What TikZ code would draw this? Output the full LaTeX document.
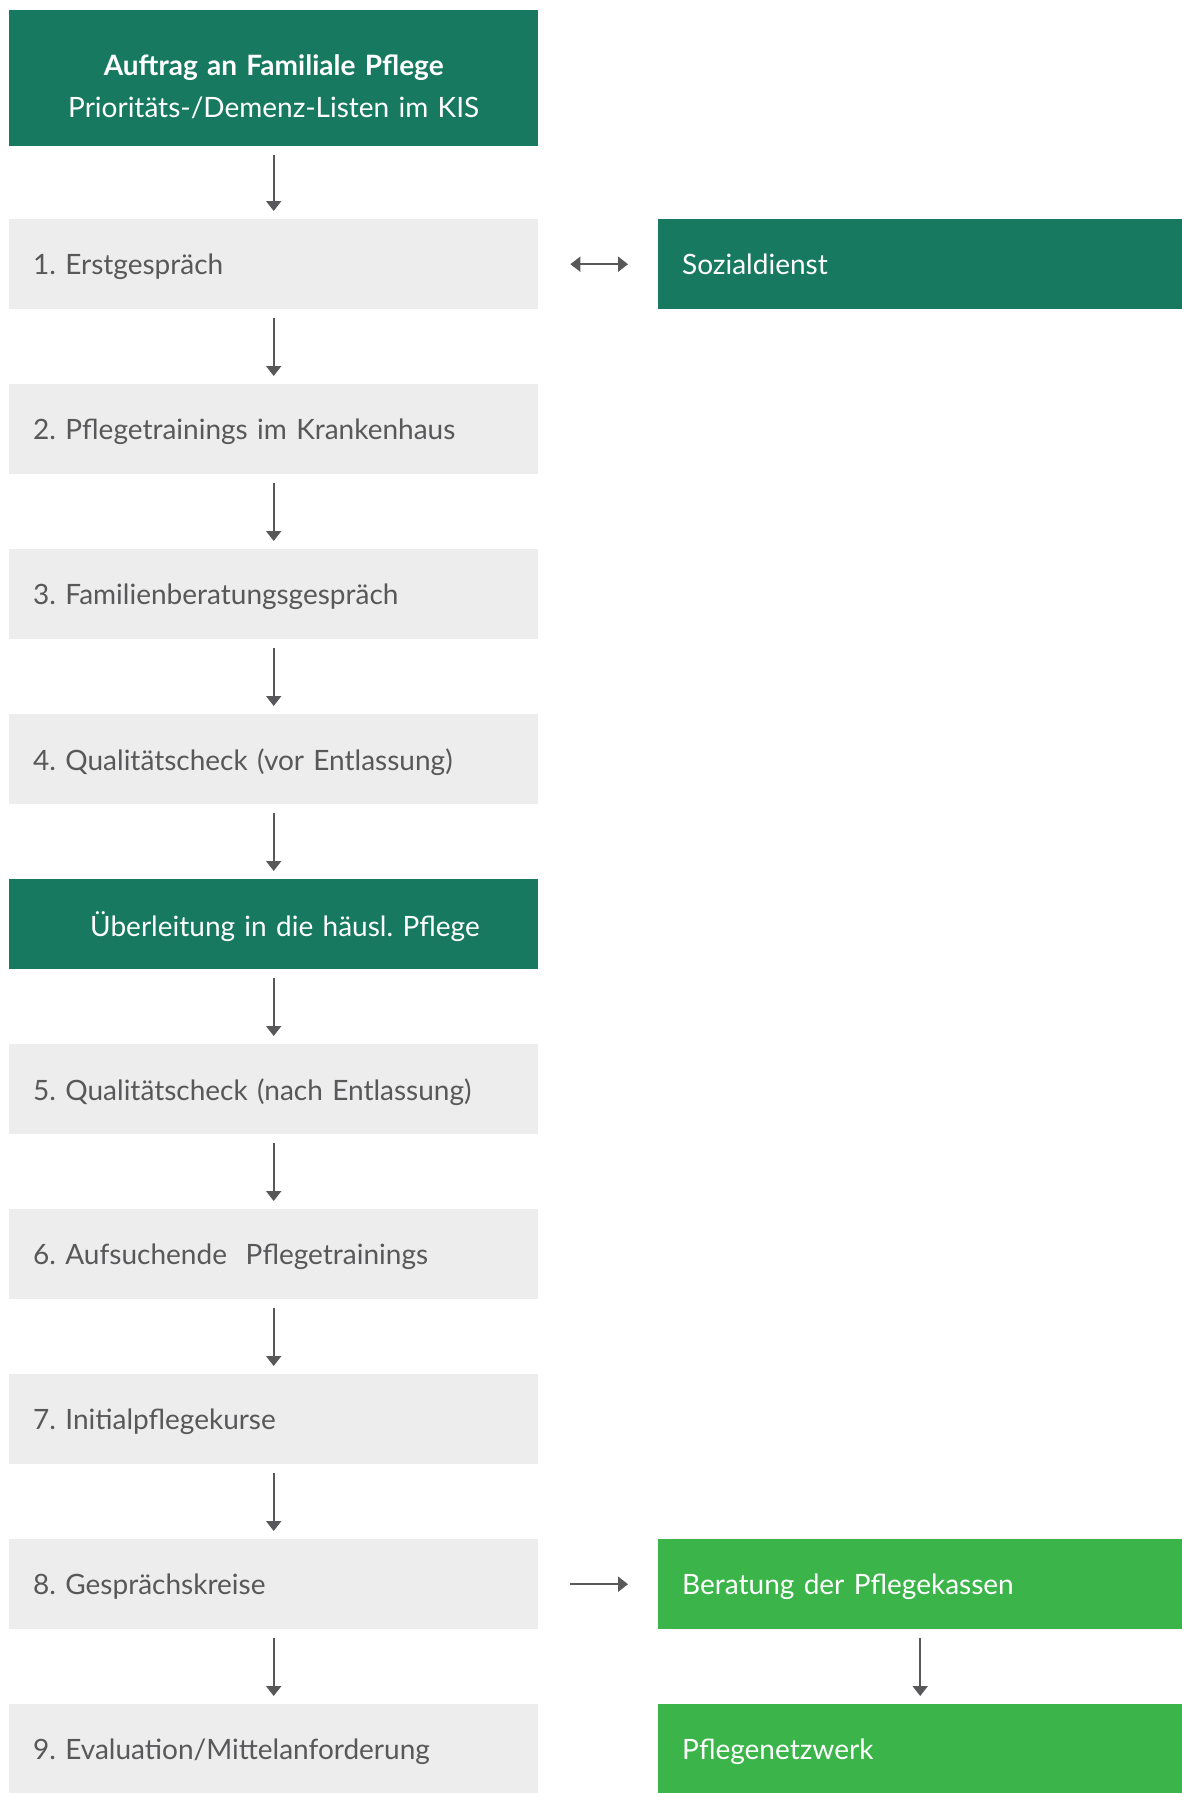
\documentclass[tikz,border=0pt]{standalone}
\usepackage{fontspec}
\setmainfont{Lato}
\usetikzlibrary{arrows.meta}
\definecolor{dkgreen}{HTML}{177A60}
\definecolor{ltgreen}{HTML}{3BB54A}
\definecolor{boxgray}{HTML}{EDEDED}
\definecolor{txtgray}{HTML}{58585A}
\definecolor{arrgray}{HTML}{58585A}
\begin{document}
\frenchspacing
\begin{tikzpicture}[x=1pt,y=-1pt,
  base/.style={rectangle, anchor=north west, minimum height=90pt, inner xsep=24pt, inner ysep=0pt, align=left, font=\fontsize{28}{32}\selectfont\frenchspacing, text depth=0pt},
  graybox/.style={base, fill=boxgray, text=txtgray, text width=481pt},
  greenbox/.style={base, fill=dkgreen, text=white, text width=481pt},
  rightbox/.style={base, text=white, text width=476pt},
  arr/.style={draw=arrgray, line width=2pt, -{Triangle[width=15pt,length=10pt]}, shorten <=9pt, shorten >=8pt},
  harr/.style={draw=arrgray, line width=2pt, shorten <=32pt, shorten >=30pt},
]
\useasboundingbox (0,0) rectangle (1182,1793);
\fill[white] (0,0) rectangle (1182,1793);

\node[greenbox, align=center, minimum height=136pt, text depth=26pt, font=\fontsize{28}{42}\selectfont\frenchspacing] (top) at (9,10) {{\bfseries Auftrag an Familiale Pflege}\\Prioritäts-/Demenz-Listen im KIS};
\node[graybox] (s1) at (9,219) {1. Erstgespräch};
\node[graybox] (s2) at (9,384) {2. Pflegetrainings im Krankenhaus};
\node[graybox] (s3) at (9,549) {3. Familienberatungsgespräch};
\node[graybox] (s4) at (9,714) {4. Qualitätscheck (vor Entlassung)};
\node[greenbox] (ue) at (9,879) {\hspace*{57pt}Überleitung in die häusl. Pflege};
\node[graybox] (s5) at (9,1044) {5. Qualitätscheck (nach Entlassung)};
\node[graybox] (s6) at (9,1209) {6. Aufsuchende\ \ Pflegetrainings};
\node[graybox] (s7) at (9,1374) {7. Initialpflegekurse};
\node[graybox] (s8) at (9,1539) {8. Gesprächskreise};
\node[graybox, minimum height=89pt] (s9) at (9,1704) {9. Evaluation/Mittelanforderung};

\node[rightbox, fill=dkgreen] (soz) at (658,219) {Sozialdienst};
\node[rightbox, fill=ltgreen] (ber) at (658,1539) {Beratung der Pflegekassen};
\node[rightbox, fill=ltgreen, minimum height=89pt] (netz) at (658,1704) {Pflegenetzwerk};

\draw[arr] (top.south) -- (s1.north);
\draw[arr] (s1.south) -- (s2.north);
\draw[arr] (s2.south) -- (s3.north);
\draw[arr] (s3.south) -- (s4.north);
\draw[arr] (s4.south) -- (ue.north);
\draw[arr] (ue.south) -- (s5.north);
\draw[arr] (s5.south) -- (s6.north);
\draw[arr] (s6.south) -- (s7.north);
\draw[arr] (s7.south) -- (s8.north);
\draw[arr] (s8.south) -- (s9.north);
\draw[arr] (ber.south) -- (netz.north);
\draw[harr, {Triangle[width=15pt,length=10pt]}-{Triangle[width=15pt,length=10pt]}] (s1.east) -- (soz.west);
\draw[harr, -{Triangle[width=15pt,length=10pt]}] (s8.east) -- (ber.west);
\end{tikzpicture}
\end{document}
